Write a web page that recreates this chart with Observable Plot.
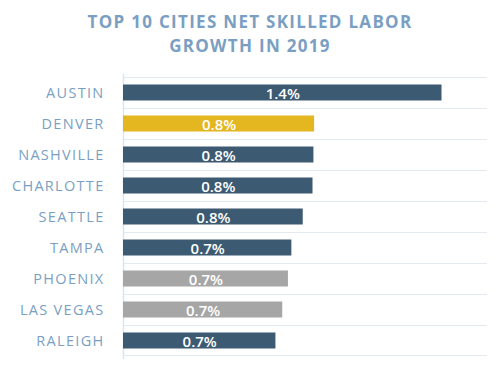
<!DOCTYPE html>
<html><head><meta charset="utf-8">
<script src="https://cdn.jsdelivr.net/npm/d3@7"></script>
<script src="https://cdn.jsdelivr.net/npm/@observablehq/plot@0.6"></script>
<style>
body{margin:0;background:#fff;}
#title{height:60px;box-sizing:border-box;padding-top:10px;text-align:center;font-family:"Open Sans";font-weight:700;font-size:17px;line-height:24px;letter-spacing:1.3px;color:#7a9fc2;}
#chart svg [aria-label="y-axis tick label"] text{letter-spacing:1.3px;}
</style></head><body>
<div id="title">TOP 10 CITIES NET SKILLED LABOR<br>GROWTH IN 2019</div>
<div id="chart"></div>
<script>
const cities = ["AUSTIN","DENVER","NASHVILLE","CHARLOTTE","SEATTLE","TAMPA","PHOENIX","LAS VEGAS","RALEIGH"];
const growth = [1.40, 0.84, 0.837, 0.833, 0.79, 0.74, 0.725, 0.70, 0.67];
const groups = ["base","highlight","base","base","base","base","muted","muted","base"];
const groupNames = ["base","highlight","muted"];
const groupColors = ["#3d5a73","#e4b620","#a6a6a6"];
const xMax = 1.6;

const data = cities.map((c,i)=>({city:c, value:growth[i], group:groups[i]}));
const step = 285/9;
const grid = "#dce5ef";

const chart = Plot.plot({
  width:500, height:312,
  marginTop:14, marginBottom:13, marginLeft:123, marginRight:13,
  x:{domain:[0,xMax], axis:null},
  y:{domain:cities, padding:0, axis:null},
  color:{domain:groupNames, range:groupColors},
  style:{fontFamily:"Open Sans", background:"white"},
  marks:[
    Plot.barX(cities, {y:d=>d, x1:0, x2:xMax, fill:grid, insetBottom:step-1.5}),
    Plot.barX(cities.slice(-1), {y:d=>d, x1:0, x2:xMax, fill:grid, insetTop:step-1.5}),
    Plot.ruleX([0], {stroke:grid, strokeWidth:1.5}),
    Plot.barX(data, {y:"city", x:"value", fill:"group", insetTop:7.5, insetBottom:7.5}),
    Plot.text(data, {y:"city", x:d=>d.value/2, text:d=>d3.format(".1f")(d.value)+"%", fill:"white", fontWeight:600, fontSize:15, dy:1}),
    Plot.axisY({tickSize:0, tickPadding:19, fontSize:14.5, fill:"#7a9fc2", fontWeight:500, label:null})
  ]
});
document.getElementById("chart").appendChild(chart);
</script>
</body></html>
